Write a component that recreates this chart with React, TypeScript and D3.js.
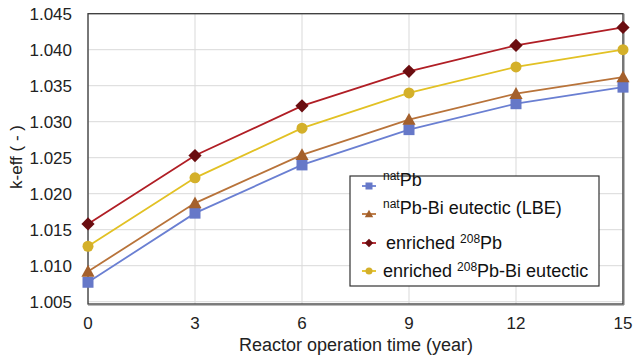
import React from "react";
import * as d3 from "d3";

const years = [0, 3, 6, 9, 12, 15];
const natPb = [1.0077, 1.0173, 1.024, 1.0289, 1.0325, 1.0348];
const natLBE = [1.0092, 1.0187, 1.0254, 1.0303, 1.0339, 1.0362];
const enrPb = [1.0158, 1.0253, 1.0322, 1.037, 1.0406, 1.0431];
const enrLBE = [1.0127, 1.0222, 1.0291, 1.034, 1.0376, 1.04];
const yTicks = [1.005, 1.01, 1.015, 1.02, 1.025, 1.03, 1.035, 1.04, 1.045];
const xTicks = [0, 3, 6, 9, 12, 15];

type Series = { values: number[]; line: string; fill: string; marker: string; sup: string; pre: string; post: string };

const series: Series[] = [
  { values: natPb, line: "#6a7fd2", fill: "#6678c8", marker: "square", pre: "", sup: "nat", post: "Pb" },
  { values: natLBE, line: "#b8733a", fill: "#a4602c", marker: "triangle", pre: "", sup: "nat", post: "Pb-Bi eutectic (LBE)" },
  { values: enrPb, line: "#b01e25", fill: "#6a0d10", marker: "diamond", pre: "enriched ", sup: "208", post: "Pb" },
  { values: enrLBE, line: "#e2c124", fill: "#d4b02a", marker: "circle", pre: "enriched ", sup: "208", post: "Pb-Bi eutectic" },
];

const W = 634, H = 359;
const L = 88, R = 623, T = 13.7, B = 304;

function Marker({ type, x, y, s, fill }: { type: string; x: number; y: number; s: number; fill: string }) {
  if (type === "square") return <rect x={x - s / 2} y={y - s / 2} width={s} height={s} fill={fill} />;
  if (type === "circle") return <circle cx={x} cy={y} r={s / 2} fill={fill} />;
  if (type === "diamond") {
    const h = s * 0.6;
    return <path d={`M${x},${y - h}L${x + h},${y}L${x},${y + h}L${x - h},${y}Z`} fill={fill} />;
  }
  const h = s * 0.6;
  return <path d={`M${x},${y - h}L${x + h},${y + h * 0.8}L${x - h},${y + h * 0.8}Z`} fill={fill} />;
}

export default function App() {
  const x = d3.scaleLinear().domain([0, 15]).range([L, R]);
  const y = d3.scaleLinear().domain([1.005, 1.045]).range([301.7, 13.7]);
  const line = d3.line<number>().x((_, i) => x(years[i])).y((d) => y(d));
  const font = "Arial, 'Liberation Sans', Helvetica, sans-serif";
  const legX = 350, legY = 176, legW = 249, legH = 110;
  const rowsY = [186, 214, 243, 271];
  return (
    <svg width={W} height={H} style={{ position: "absolute", left: 0, top: 0, fontFamily: font }}>
      <rect x={0} y={0} width={W} height={H} fill="#fff" />
      {xTicks.map((t) => (
        <line key={"gx" + t} x1={x(t)} x2={x(t)} y1={T} y2={B} stroke="#d9d9d9" strokeWidth={1} />
      ))}
      {yTicks.map((t) => (
        <line key={"gy" + t} x1={L} x2={R} y1={y(t)} y2={y(t)} stroke="#d9d9d9" strokeWidth={1} />
      ))}
      <rect x={L} y={T} width={R - L} height={B - T} fill="none" stroke="#3a3a3a" strokeWidth={1.3} />
      <line x1={R + 1} x2={R + 1} y1={T} y2={B + 1} stroke="#777" strokeWidth={1} />
      <line x1={L} x2={R + 1} y1={B + 1} y2={B + 1} stroke="#777" strokeWidth={1} />
      {yTicks.map((t) => (
        <text key={"ty" + t} x={72} y={y(t)} dy="0.35em" textAnchor="end" fontSize={17} fill="#222">
          {t.toFixed(3)}
        </text>
      ))}
      {xTicks.map((t) => (
        <text key={"tx" + t} x={x(t)} y={323} dy="0.35em" textAnchor="middle" fontSize={17} fill="#222">
          {t}
        </text>
      ))}
      <text x={356} y={345} dy="0.35em" textAnchor="middle" fontSize={18} fill="#222">
        Reactor operation time (year)
      </text>
      <text transform="translate(16,157) rotate(-90)" dy="0.35em" textAnchor="middle" fontSize={17} fill="#222">
        k-eff ( - )
      </text>
      {series.map((s, i) => (
        <path key={"l" + i} d={line(s.values) || ""} fill="none" stroke={s.line} strokeWidth={1.8} />
      ))}
      {series.map((s, i) =>
        s.values.map((v, j) => (
          <Marker key={"m" + i + "-" + j} type={s.marker} x={x(years[j])} y={y(v)} s={11} fill={s.fill} />
        ))
      )}
      <rect x={legX} y={legY} width={legW} height={legH} fill="#fff" stroke="#333" strokeWidth={1.2} />
      {series.map((s, i) => (
        <g key={"lg" + i}>
          <line x1={362} x2={376} y1={rowsY[i]} y2={rowsY[i]} stroke={s.line} strokeWidth={1.8} />
          <Marker type={s.marker} x={369} y={rowsY[i]} s={7} fill={s.fill} />
          <text x={i < 2 ? 383 : i === 2 ? 386 : 383} y={rowsY[i]} dy="0.35em" fontSize={18} fill="#111">
            {s.pre}
            <tspan fontSize={12} dy={-6}>{s.sup}</tspan>
            <tspan dy={6}>{s.post}</tspan>
          </text>
        </g>
      ))}
    </svg>
  );
}
